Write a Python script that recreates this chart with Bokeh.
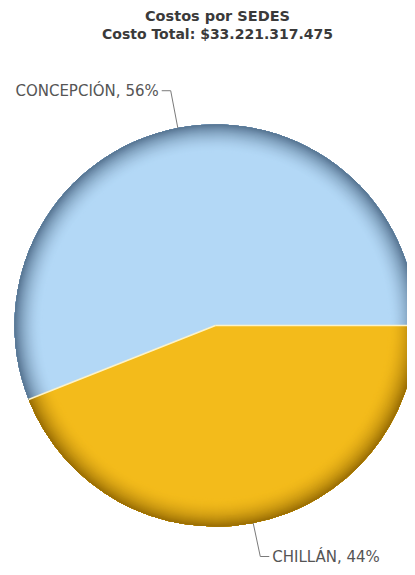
import numpy as np
from bokeh.plotting import figure
from bokeh.models import Range1d
from bokeh.embed import file_html
from bokeh.resources import INLINE
from bokeh.core.properties import value

# ---- data ----
title_line1 = "Costos por SEDES"
title_line2 = "Costo Total: $33.221.317.475"
sedes = ["CONCEPCIÓN", "CHILLÁN"]
shares = [56, 44]
colors = ["#b3d8f6", "#f3bb1b"]
edge_colors = ["#5a7895", "#9c7005"]

W, H = 407, 567
CX, CY, R = 215, 242, 201

p = figure(width=W, height=H, x_range=Range1d(0, W), y_range=Range1d(0, H),
           output_backend="svg", toolbar_location=None, min_border=0)
p.axis.visible = False
p.grid.visible = False
p.outline_line_color = None
p.background_fill_color = "white"
p.border_fill_color = "white"

total = sum(shares)
fracs = np.array(shares, dtype=float) / total
ends = np.cumsum(fracs) * 2 * np.pi
starts = np.concatenate([[0.0], ends[:-1]])

def hex2rgb(h):
    h = h.lstrip("#")
    return np.array([int(h[i:i + 2], 16) for i in (0, 2, 4)], dtype=float)

def rgb2hex(c):
    c = np.clip(np.round(c), 0, 255).astype(int)
    return "#%02x%02x%02x" % tuple(c)

# base wedges
p.wedge(x=CX, y=CY, radius=R, start_angle=starts, end_angle=ends,
        fill_color=colors, line_color=None)

# 3D edge shading: nested rings reaching the rim, darkening outward
N = 28
rx, ry, ri, ro, sa, ea, cols = [], [], [], [], [], [], []
for k in range(N):
    inner = R - N + k
    t = (k + 1) / N
    w = t ** 2.0
    for s, e, c, d in zip(starts, ends, colors, edge_colors):
        col = hex2rgb(c) * (1 - w) + hex2rgb(d) * w
        rx.append(CX); ry.append(CY)
        ri.append(inner); ro.append(R)
        sa.append(s); ea.append(e); cols.append(rgb2hex(col))
p.annular_wedge(x=rx, y=ry, inner_radius=ri, outer_radius=ro,
                start_angle=sa, end_angle=ea, fill_color=cols, line_color=None)

# separators between slices
p.segment(x0=[CX] * len(starts), y0=[CY] * len(starts),
          x1=list(CX + R * np.cos(starts)), y1=list(CY + R * np.sin(starts)),
          line_color="#fdf3c8", line_width=1.6)

# labels with connectors
mids = (starts + ends) / 2
for name, f, a in zip(sedes, fracs, mids):
    dx, dy = np.cos(a), np.sin(a)
    ex, ey = CX + R * dx, CY + R * dy
    bx, by = CX + (R + 38) * dx, CY + (R + 38) * dy
    by = min(max(by, 11), H - 11)
    sgn = -1 if dx < 0 else 1
    hx = bx + sgn * 9
    p.line(x=[ex, bx, hx], y=[ey, by, by], line_color="#7a7a7a", line_width=1)
    p.text(x=[hx + sgn * 3], y=[by], text=[f"{name}, {round(f * 100)}%"],
           text_font=value("DejaVu Sans"), text_font_size="15px",
           text_color="#555555", text_baseline="middle",
           text_align="right" if sgn < 0 else "left")

# titles
p.text(x=[217], y=[552], text=[title_line1], text_font=value("DejaVu Sans"),
       text_font_size="14.5px", text_font_style="bold", text_color="#3a3a3a",
       text_align="center", text_baseline="middle")
p.text(x=[217], y=[534], text=[title_line2], text_font=value("DejaVu Sans"),
       text_font_size="14px", text_font_style="bold", text_color="#3a3a3a",
       text_align="center", text_baseline="middle")

open("out.html", "w").write(file_html(p, INLINE))
